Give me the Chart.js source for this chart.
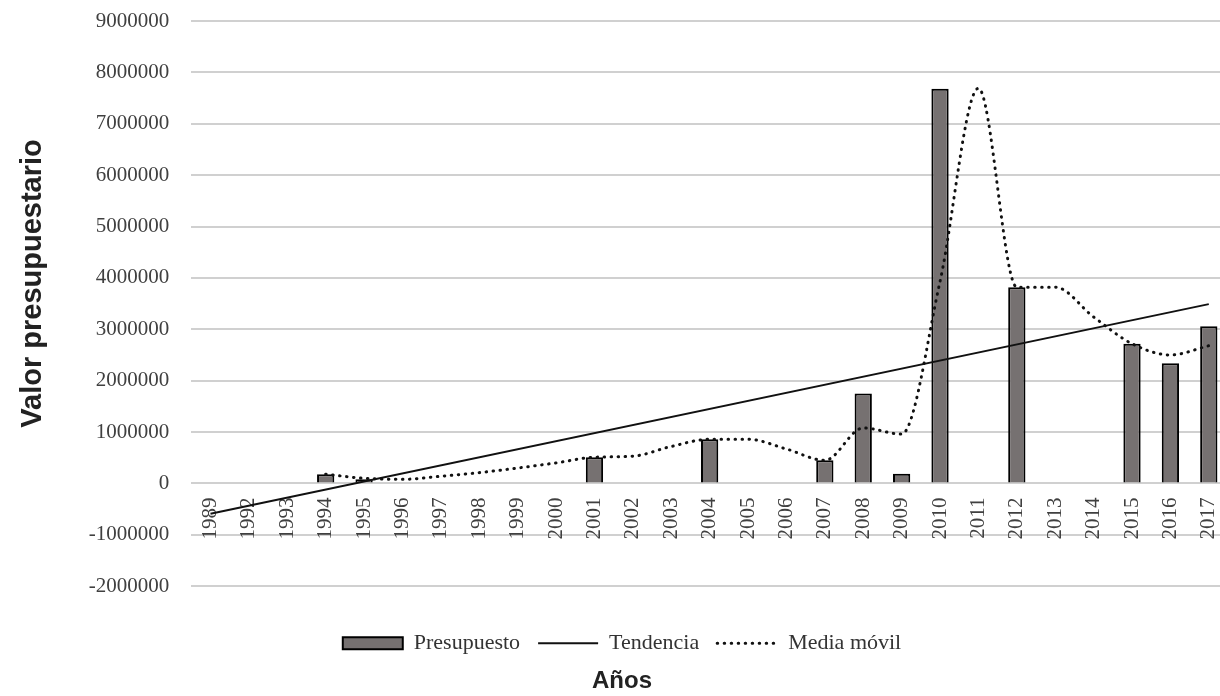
<!DOCTYPE html>
<html>
<head>
<meta charset="utf-8">
<script src="https://cdn.jsdelivr.net/npm/chart.js@4"></script>
<style>
    html, body { margin: 0; padding: 0; background: #ffffff; overflow: hidden; }
    #wrap { width: 1228px; height: 696px; }
</style>
</head>
<body>
<div id="wrap"><canvas id="budgetChart"></canvas></div>
<script>
// Chart data
const years = ['1989', '1992', '1993', '1994', '1995', '1996', '1997', '1998', '1999', '2000',
    '2001', '2002', '2003', '2004', '2005', '2006', '2007', '2008', '2009', '2010',
    '2011', '2012', '2013', '2014', '2015', '2016', '2017'];

const presupuesto = [null, null, null, 180000, 80000, null, null, null, null, null,
    510000, null, null, 860000, null, null, 450000, 1750000, 190000, 7680000,
    null, 3820000, null, null, 2720000, 2340000, 3060000];

// trend line: only its two ends
const tendencia = [-590000, null, null, null, null, null, null, null, null, null,
    null, null, null, null, null, null, null, null, null, null,
    null, null, null, null, null, null, 3490000];

const mediaMovil = [null, null, null, 180000, 100000, 80000, 140000, 210000, 300000, 400000,
    510000, 530000, 720000, 860000, 860000, 670000, 450000, 1080000, 960000, 3930000,
    7690000, 3820000, 3820000, 3240000, 2720000, 2500000, 2680000];

const yMin = -2000000;
const yMax = 9000000;
const yStep = 1000000;

const serif = "'Liberation Serif', 'Times New Roman', serif";
const sans = "'Liberation Sans', Arial, sans-serif";
const legendStyles = ['rect', 'line', 'line'];

const ctx = document.getElementById('budgetChart');
new Chart(ctx, {
    type: 'bar',
    data: {
        labels: years,
        datasets: [{
            label: 'Presupuesto',
            data: presupuesto,
            backgroundColor: '#767171',
            borderColor: '#000000',
            borderWidth: 2,
            barPercentage: 0.45,
            categoryPercentage: 1,
            order: 3
        }, {
            type: 'line',
            label: 'Tendencia',
            data: tendencia,
            borderColor: '#111111',
            borderWidth: 2,
            pointRadius: 0,
            spanGaps: true,
            tension: 0,
            order: 1
        }, {
            type: 'line',
            label: 'Media móvil',
            data: mediaMovil,
            borderColor: '#111111',
            borderWidth: 3,
            borderDash: [0.5, 6.5],
            borderCapStyle: 'round',
            pointRadius: 0,
            cubicInterpolationMode: 'monotone',
            order: 2
        }]
    },
    options: {
        responsive: true,
        maintainAspectRatio: false,
        animation: false,
        layout: {
            padding: { top: 21, left: 16, right: 0, bottom: 0 }
        },
        plugins: {
            tooltip: { enabled: false },
            legend: {
                position: 'bottom',
                labels: {
                    usePointStyle: true,
                    pointStyleWidth: 60,
                    boxHeight: 12,
                    padding: 18,
                    color: '#333333',
                    font: { family: serif, size: 22 },
                    sort: (a, b) => a.datasetIndex - b.datasetIndex,
                    generateLabels(chart) {
                        const items = Chart.defaults.plugins.legend.labels.generateLabels(chart);
                        items.forEach(item => {
                            const ds = chart.data.datasets[item.datasetIndex];
                            item.pointStyle = legendStyles[item.datasetIndex];
                            item.fillStyle = ds.backgroundColor || '#ffffff';
                            item.strokeStyle = ds.borderColor;
                            item.lineWidth = ds.borderWidth;
                            item.lineDash = ds.borderDash || [];
                            item.lineCap = ds.borderCapStyle || 'butt';
                        });
                        return items;
                    }
                }
            },
            title: {
                display: true,
                position: 'bottom',
                text: 'Años',
                color: '#222222',
                font: { family: sans, size: 24, weight: 'bold' },
                padding: { top: 3, bottom: 0 }
            }
        },
        scales: {
            x: {
                position: { y: 0 },
                grid: { display: false },
                border: { display: false },
                ticks: {
                    autoSkip: false,
                    minRotation: 90,
                    maxRotation: 90,
                    padding: 6,
                    color: '#404040',
                    font: { family: serif, size: 21 }
                },
                afterFit(scale) {
                    scale.paddingLeft = 0;
                    scale.paddingRight = 0;
                }
            },
            // empty axis that only keeps a gap above the legend
            gap: {
                position: 'bottom',
                grid: { display: false },
                border: { display: false },
                ticks: { display: false },
                afterFit(scale) {
                    scale.height = 28;
                    scale.paddingLeft = 0;
                    scale.paddingRight = 0;
                }
            },
            y: {
                min: yMin,
                max: yMax,
                grid: { color: '#d0d0d0', lineWidth: 2, drawTicks: false },
                border: { display: false },
                ticks: {
                    stepSize: yStep,
                    padding: 22,
                    color: '#404040',
                    font: { family: serif, size: 21 },
                    callback: value => String(value)
                },
                title: {
                    display: true,
                    // leading spaces push the title a little up, as in the original
                    text: '     Valor presupuestario',
                    color: '#222222',
                    font: { family: sans, size: 29, weight: 'bold' },
                    padding: { top: 0, bottom: 16 }
                },
                afterFit(scale) {
                    scale.paddingTop = 0;
                    scale.paddingBottom = 0;
                }
            }
        }
    }
});
</script>
</body>
</html>
